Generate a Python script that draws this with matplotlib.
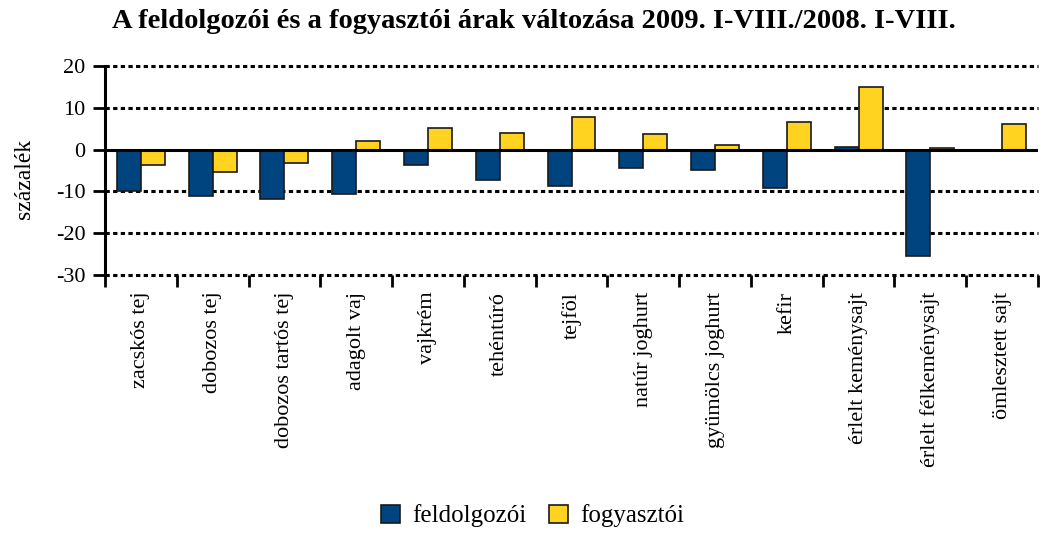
import matplotlib
matplotlib.use("Agg")
import matplotlib.pyplot as plt
import numpy as np
from matplotlib.patches import Patch

categories = ["zacskós tej", "dobozos tej", "dobozos tartós tej", "adagolt vaj", "vajkrém",
              "tehéntúró", "tejföl", "natúr joghurt", "gyümölcs joghurt", "kefir",
              "érlelt keménysajt", "érlelt félkeménysajt", "ömlesztett sajt"]
feldolgozoi = [-9.9, -11.2, -11.7, -10.7, -3.8, -7.3, -8.6, -4.3, -4.8, -9.3, 0.6, -25.4, 0.0]
fogyasztoi = [-3.7, -5.4, -3.1, 2.0, 5.2, 3.9, 7.9, 3.8, 1.0, 6.6, 15.0, 0.3, 6.2]
yticks = [-30, -20, -10, 0, 10, 20]

plt.rcParams['font.family'] = ['Liberation Serif', 'DejaVu Serif']

fig = plt.figure(figsize=(10.45, 5.36), dpi=100)
ax = fig.add_axes([0.1005, 0.4869, 0.8928, 0.39])

x = np.arange(len(categories))
w = 0.334
c_blue = "#00447F"
c_yellow = "#FFD31F"
ax.bar(x - w/2, feldolgozoi, w, color=c_blue, edgecolor="#1a1a1a", linewidth=1.2, zorder=3)
ax.bar(x + w/2, fogyasztoi, w, color=c_yellow, edgecolor="#1a1a1a", linewidth=1.2, zorder=3)

ax.set_xlim(-0.5, len(categories) - 0.5)
ax.set_ylim(-30, 20)
ax.set_yticks(yticks)
ax.set_yticklabels([str(v) for v in yticks], fontsize=16)
for v in yticks:
    if v != 0:
        ax.axhline(v, color="black", linestyle=(0, (1.4, 1.1)), linewidth=2.2, zorder=1, clip_on=False)
ax.axhline(0, color="black", linewidth=2.2, zorder=4)

for s in ["top", "right", "bottom"]:
    ax.spines[s].set_visible(False)
ax.spines["left"].set_linewidth(2.2)
ax.tick_params(axis="y", direction="out", length=9, width=2, pad=5)

ax.set_xticks(np.arange(len(categories) + 1) - 0.5)
ax.set_xticklabels([])
ax.tick_params(axis="x", direction="out", length=8.5, width=2)
ax.set_xticks(x, minor=True)
ax.set_xticklabels(categories, minor=True, rotation=90, fontsize=16)
ax.tick_params(axis="x", which="minor", length=0, pad=12)

fig.text(0.023, 0.666, "százalék", rotation=90, ha="center", va="center", fontsize=17)

fig.text(0.5105, 1 - 28/536, "A feldolgozói és a fogyasztói árak változása 2009. I-VIII./2008. I-VIII.",
         ha="center", va="baseline", fontsize=20.5, fontweight="bold")

handles = [Patch(facecolor=c_blue, edgecolor="#1a1a1a", linewidth=1.2),
           Patch(facecolor=c_yellow, edgecolor="#1a1a1a", linewidth=1.2)]
fig.legend(handles, ["feldolgozói", "fogyasztói"], loc="center", bbox_to_anchor=(0.51, 1 - 516/536),
           ncol=2, frameon=False, fontsize=18, handlelength=0.75, handleheight=0.75,
           handletextpad=0.5, columnspacing=0.9)

fig.savefig("out.png", dpi=100)
